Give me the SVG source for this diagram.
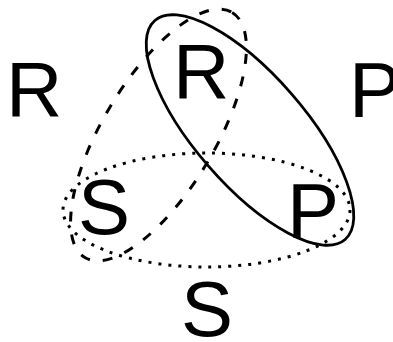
<svg xmlns="http://www.w3.org/2000/svg" width="393" height="342" viewBox="0 0 393 342">
<style>
.lbl{font-family:"Liberation Sans",Arial,sans-serif;font-size:78px;fill:#000}
.e{fill:none;stroke:#000}
.solid{stroke-width:2.8}
.dash{stroke-width:3;stroke-dasharray:10 13}
.dot{stroke-width:3;stroke-dasharray:3 7}
</style>
<rect width="393" height="342" fill="#fff"/>
<g id="connectors">
<ellipse id="set-solid" class="e solid" cx="250" cy="130" rx="145" ry="55" transform="rotate(49 250 130)"/>
<ellipse id="set-dashed" class="e dash" cx="158.5" cy="135" rx="143" ry="56" transform="rotate(-59 158.5 135)"/>
<ellipse id="set-dotted" class="e dot" cx="206.5" cy="210" rx="143.5" ry="57"/>
</g>
<g id="label-R-outer"><text class="lbl" x="6" y="116">R</text></g>
<g id="label-P-outer"><text class="lbl" x="349" y="117">P</text></g>
<g id="label-S-outer"><text class="lbl" x="181" y="336">S</text></g>
<g id="node-R"><text class="lbl" x="173" y="98">R</text></g>
<g id="node-S"><text class="lbl" x="78" y="234">S</text></g>
<g id="node-P"><text class="lbl" x="287" y="238">P</text></g>
</svg>
